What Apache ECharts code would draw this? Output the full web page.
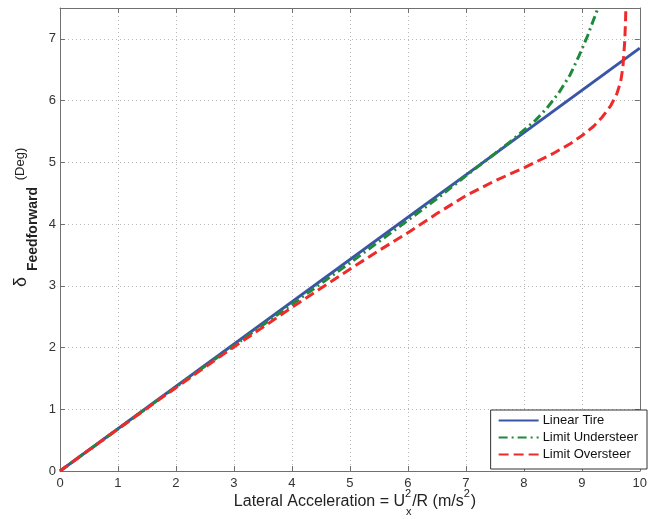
<!DOCTYPE html>
<html>
<head>
<meta charset="utf-8">
<script src="https://cdn.jsdelivr.net/npm/echarts@6/dist/echarts.min.js"></script>
<style>
  html, body { margin: 0; padding: 0; background: #fff; }
  #chart { width: 650px; height: 519px; }
</style>
</head>
<body>
<div id="chart"></div>
<script>
// Steady-state feedforward steering angle vs lateral acceleration
const seriesNames = ['Linear Tire', 'Limit Understeer', 'Limit Oversteer'];

const linearX = [0, 10];
const linearY = [0, 6.85];

const understeerX = [0, 1, 2, 3, 4, 5, 6, 6.5, 7, 7.5, 7.8, 8, 8.2, 8.4, 8.6, 8.8, 8.95, 9.1, 9.2, 9.28];
const understeerY = [0, 0.68, 1.36, 2.03, 2.7, 3.37, 4.06, 4.41, 4.78, 5.14, 5.36, 5.52, 5.68, 5.88, 6.12, 6.42, 6.72, 7.05, 7.3, 7.5];

const oversteerX = [0, 1, 2, 3, 4, 4.5, 5, 5.5, 6, 6.5, 7, 7.5, 8, 8.5, 8.8, 9, 9.2, 9.35, 9.5, 9.6, 9.67, 9.71, 9.74, 9.755, 9.76];
const oversteerY = [0, 0.68, 1.35, 2.01, 2.65, 2.96, 3.27, 3.57, 3.86, 4.17, 4.46, 4.7, 4.91, 5.14, 5.3, 5.43, 5.58, 5.73, 5.92, 6.1, 6.3, 6.55, 6.95, 7.3, 7.5];

const xTicks = [0, 10, 1];   // min, max, step
const yTicks = [0, 7.5, 1];

function pairs(xs, ys) { return xs.map((x, i) => [x, ys[i]]); }

const FONT = '"Liberation Sans", Arial, sans-serif';
const axisColor = '#707070';
const textColor = '#333';

const measureCtx = document.createElement('canvas').getContext('2d');
function textWidth(str, size, weight) {
  measureCtx.font = (weight || 'normal') + ' ' + size + 'px ' + FONT;
  return measureCtx.measureText(str).width;
}

// x-axis title built from pieces so that U carries both a superscript and a subscript
function xTitle() {
  const big = 16, small = 11, cx = 355, cy = 502;
  const p1 = 'Lateral Acceleration = U', p2 = '/R (m/s', p3 = ')';
  const w1 = textWidth(p1, big), wS = textWidth('2', small) + 1;
  const w2 = textWidth(p2, big), w3 = textWidth(p3, big);
  const total = w1 + wS + w2 + wS + w3;
  let x = cx - total / 2;
  const base = { fill: '#222', fontFamily: FONT, textVerticalAlign: 'middle', textAlign: 'left' };
  const els = [];
  els.push({ type: 'text', x: x, y: cy, style: Object.assign({}, base, { text: p1, fontSize: big }) });
  x += w1;
  els.push({ type: 'text', x: x, y: cy - 8, style: Object.assign({}, base, { text: '2', fontSize: small }) });
  els.push({ type: 'text', x: x + 1, y: cy + 10, style: Object.assign({}, base, { text: 'x', fontSize: small }) });
  x += wS;
  els.push({ type: 'text', x: x, y: cy, style: Object.assign({}, base, { text: p2, fontSize: big }) });
  x += w2;
  els.push({ type: 'text', x: x, y: cy - 8, style: Object.assign({}, base, { text: '2', fontSize: small }) });
  x += wS;
  els.push({ type: 'text', x: x, y: cy, style: Object.assign({}, base, { text: p3, fontSize: big }) });
  return els;
}

// rotated y-axis title: delta, bold subscript, superscript unit
function yTitle() {
  const base = { fill: '#222', fontFamily: FONT, textVerticalAlign: 'middle', textAlign: 'center' };
  return [
    { type: 'text', x: 21, y: 282, rotation: Math.PI / 2,
      style: Object.assign({}, base, { text: 'δ', fontSize: 18 }) },
    { type: 'text', x: 33, y: 229, rotation: Math.PI / 2,
      style: Object.assign({}, base, { text: 'Feedforward', fontSize: 14, fontWeight: 'bold' }) },
    { type: 'text', x: 20, y: 164, rotation: Math.PI / 2,
      style: Object.assign({}, base, { text: '(Deg)', fontSize: 13 }) }
  ];
}

function valueAxis(range, pos, showLabels, showGrid) {
  return {
    type: 'value', position: pos,
    min: range[0], max: range[1], interval: range[2],
    axisLine: { show: true, onZero: false, lineStyle: { color: axisColor, width: 1 } },
    axisTick: { show: true, inside: true, length: 5, lineStyle: { color: axisColor } },
    axisLabel: {
      show: showLabels, color: textColor, fontSize: 13, fontFamily: FONT,
      margin: pos === 'bottom' ? 6 : 4, showMaxLabel: pos === 'bottom'
    },
    splitLine: { show: showGrid, lineStyle: { color: '#b8b8b8', type: [1, 3], width: 1 } }
  };
}

const chart = echarts.init(document.getElementById('chart'), null, { renderer: 'canvas' });
chart.setOption({
  animation: false,
  backgroundColor: '#fff',
  textStyle: { fontFamily: FONT },
  grid: { left: 60, right: 3, top: 8, bottom: 48, containLabel: false },
  xAxis: [valueAxis(xTicks, 'bottom', true, true), valueAxis(xTicks, 'top', false, false)],
  yAxis: [valueAxis(yTicks, 'left', true, true), valueAxis(yTicks, 'right', false, false)],
  legend: {
    data: seriesNames,
    orient: 'vertical',
    right: 3, bottom: 50,
    itemWidth: 40, itemHeight: 12, itemGap: 4,
    padding: [4, 9, 8, 7],
    backgroundColor: '#fff',
    borderColor: '#333', borderWidth: 1,
    itemStyle: { opacity: 0 },
    textStyle: { fontSize: 13, color: '#111', fontFamily: FONT, padding: [0, 0, 0, -1] }
  },
  graphic: xTitle().concat(yTitle()),
  series: [
    { name: seriesNames[0], type: 'line', symbol: 'none', showSymbol: false,
      data: pairs(linearX, linearY),
      lineStyle: { color: '#3a55a6', width: 3 }, itemStyle: { color: '#3a55a6' } },
    { name: seriesNames[1], type: 'line', symbol: 'none', showSymbol: false,
      data: pairs(understeerX, understeerY),
      lineStyle: { color: '#1f8a3c', width: 3, type: [9, 4, 2, 4] }, itemStyle: { color: '#1f8a3c' } },
    { name: seriesNames[2], type: 'line', symbol: 'none', showSymbol: false,
      data: pairs(oversteerX, oversteerY),
      lineStyle: { color: '#ee2a2a', width: 3, type: [10, 5] }, itemStyle: { color: '#ee2a2a' } }
  ]
});
</script>
</body>
</html>
